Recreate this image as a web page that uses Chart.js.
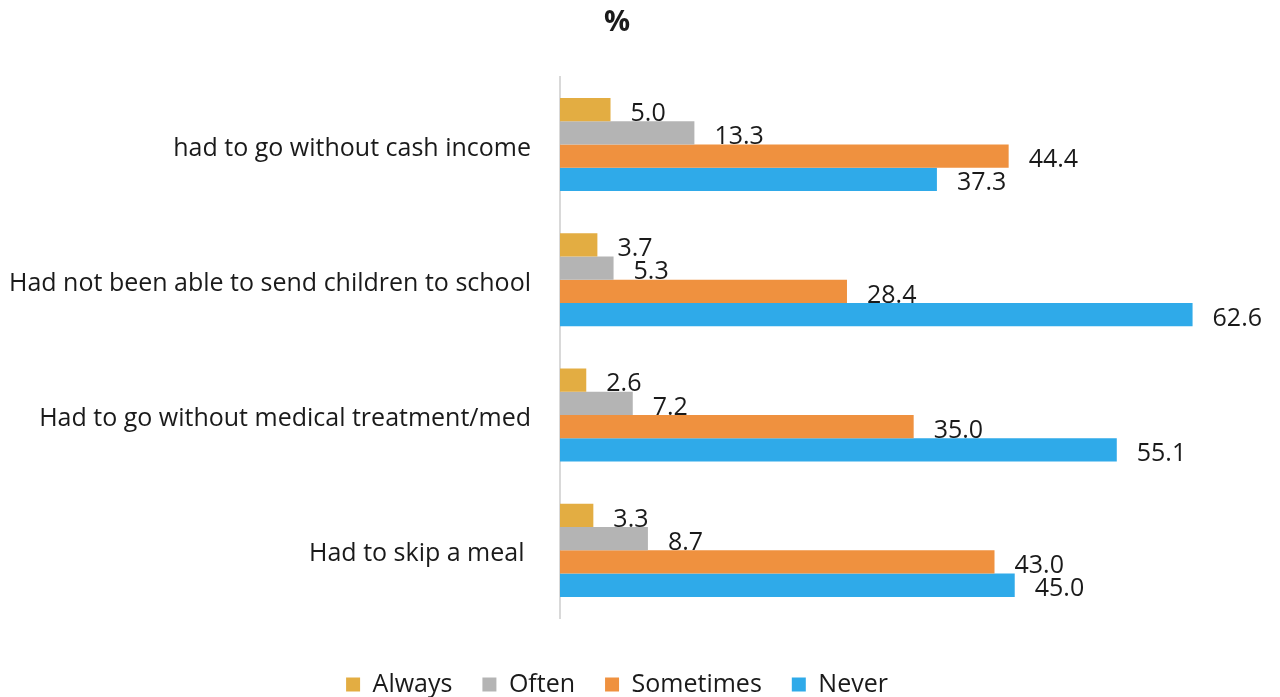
<!DOCTYPE html>
<html>
<head>
<meta charset="utf-8">
<script src="https://cdn.jsdelivr.net/npm/chart.js@4.4.1/dist/chart.umd.min.js"></script>
<style>
  html, body { margin: 0; padding: 0; background: #fff; }
  #wrap { width: 1280px; height: 697px; }
</style>
</head>
<body>
<div id="wrap"><canvas id="chart" width="1280" height="697"></canvas></div>
<script>
const categories = [
  'had to go without cash income',
  'Had not been able to send children to school',
  'Had to go without medical treatment/med',
  'Had to skip a meal '
];
const always = [5.0, 3.7, 2.6, 3.3];
const often = [13.3, 5.3, 7.2, 8.7];
const sometimes = [44.4, 28.4, 35.0, 43.0];
const never = [37.3, 62.6, 55.1, 45.0];

const COLORS = {
  always: '#E3AD42',
  often: '#B4B4B4',
  sometimes: '#EF913F',
  never: '#2FAAE9',
  text: '#1a1a1a'
};

const FONT = '"Open Sans", "Liberation Sans", sans-serif';

// value labels to the right of each bar
const barValues = {
  id: 'barValues',
  afterDatasetsDraw(chart) {
    const ctx = chart.ctx;
    ctx.save();
    ctx.font = `25px ${FONT}`;
    ctx.fillStyle = COLORS.text;
    ctx.textAlign = 'left';
    ctx.textBaseline = 'middle';
    chart.data.datasets.forEach((ds, di) => {
      chart.getDatasetMeta(di).data.forEach((bar, i) => {
        ctx.fillText(ds.data[i].toFixed(1), bar.x + 20, bar.y + 4);
      });
    });
    ctx.restore();
  }
};

function dataset(label, data, color) {
  return {
    label,
    data,
    backgroundColor: color,
    borderWidth: 0,
    barPercentage: 1,
    categoryPercentage: 0.688
  };
}

new Chart(document.getElementById('chart'), {
  type: 'bar',
  data: {
    labels: categories,
    datasets: [
      dataset('Always', always, COLORS.always),
      dataset('Often', often, COLORS.often),
      dataset('Sometimes', sometimes, COLORS.sometimes),
      dataset('Never', never, COLORS.never)
    ]
  },
  options: {
    indexAxis: 'y',
    responsive: false,
    animation: false,
    layout: { padding: { top: 0, right: 46, bottom: -10, left: 0 } },
    plugins: {
      title: {
        display: true,
        text: '%',
        color: COLORS.text,
        font: { family: FONT, size: 29, weight: 'bold' },
        padding: { top: 5, bottom: 37 }
      },
      legend: {
        position: 'bottom',
        labels: {
          color: COLORS.text,
          font: { family: FONT, size: 25 },
          boxWidth: 14,
          boxHeight: 14,
          padding: 30
        }
      },
      tooltip: { enabled: false }
    },
    scales: {
      x: {
        min: 0,
        max: 66.7,
        afterFit(scale) { scale.height = 24; },
        grid: { display: false },
        border: { display: false },
        ticks: { display: false }
      },
      y: {
        afterFit(scale) { scale.width = 560; },
        grid: { display: false, drawTicks: false },
        border: { display: true, color: '#d9d9d9', width: 2 },
        ticks: {
          color: COLORS.text,
          font: { family: FONT, size: 25 },
          padding: 29,
          labelOffset: 4
        }
      }
    }
  },
  plugins: [barValues]
});
</script>
</body>
</html>
